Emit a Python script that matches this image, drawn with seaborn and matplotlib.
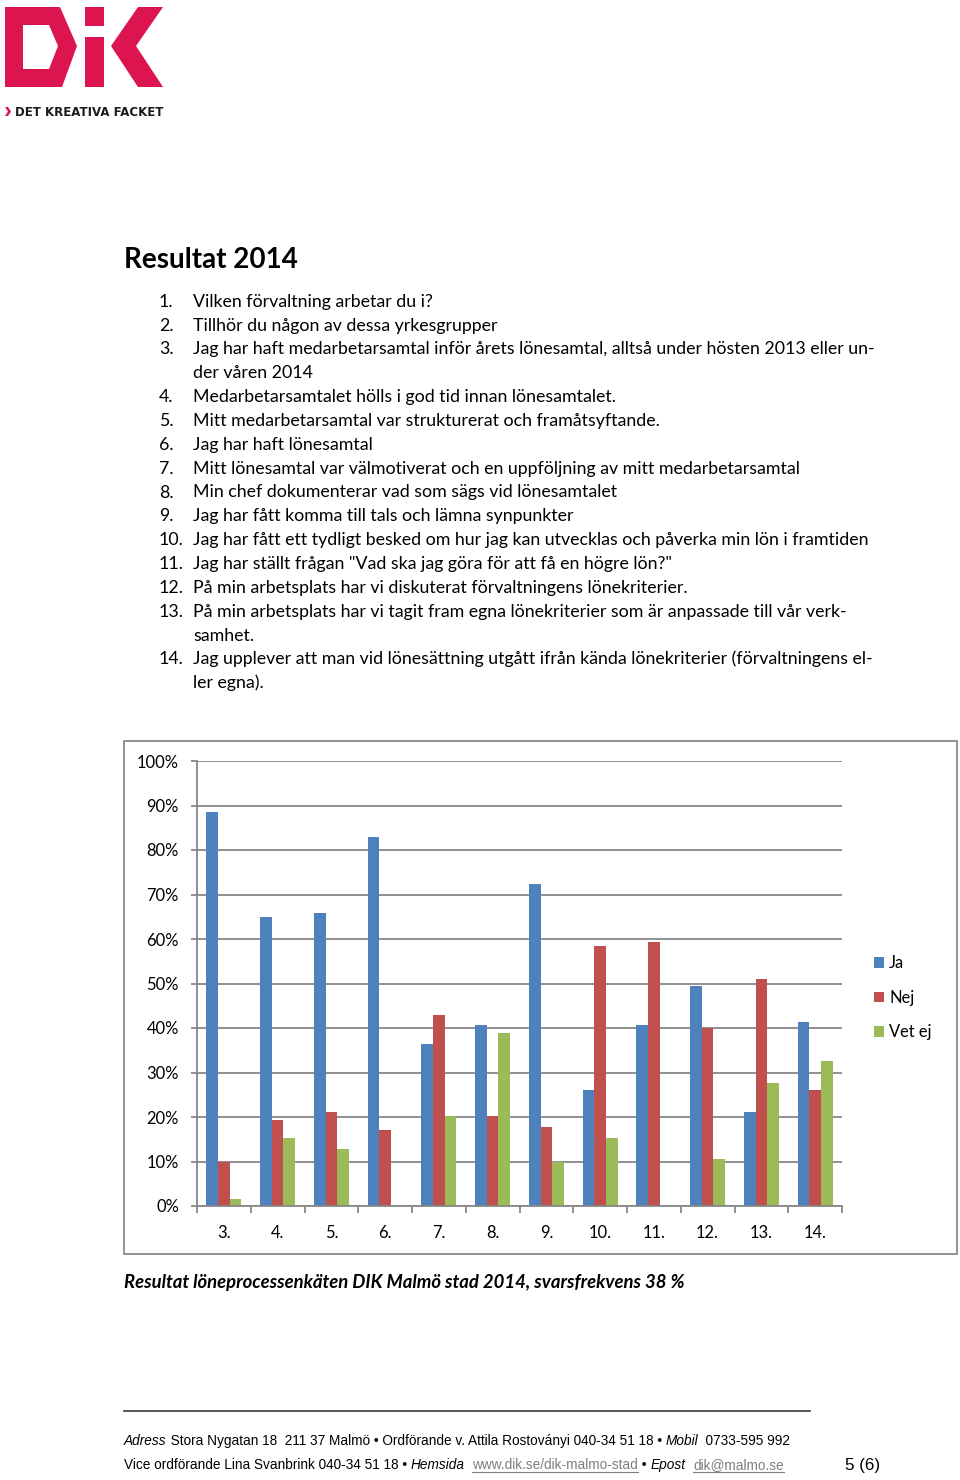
import numpy as np
import pandas as pd
import matplotlib
matplotlib.use("Agg")
import matplotlib.pyplot as plt
import seaborn as sns
from matplotlib.patches import Polygon, Rectangle, Patch
from matplotlib import font_manager as fm

# ---------------- data ----------------
questions = ["3.", "4.", "5.", "6.", "7.", "8.", "9.", "10.", "11.", "12.", "13.", "14."]
ja = [88.6, 65.0, 65.9, 82.9, 36.5, 40.6, 72.3, 26.0, 40.6, 49.5, 21.1, 41.4]
nej = [9.8, 19.4, 21.1, 17.1, 43.0, 20.3, 17.8, 58.5, 59.4, 39.9, 51.1, 26.0]
vet_ej = [1.5, 15.3, 12.9, 0.0, 20.3, 38.9, 9.8, 15.3, 0.0, 10.5, 27.6, 32.5]
series_names = ["Ja", "Nej", "Vet ej"]
series_colors = ["#4F81BD", "#C0504D", "#9BBB59"]
y_ticks = [0, 10, 20, 30, 40, 50, 60, 70, 80, 90, 100]

title = "Resultat 2014"
list_items = [
    ("1.", "Vilken förvaltning arbetar du i?"),
    ("2.", "Tillhör du någon av dessa yrkesgrupper"),
    ("3.", "Jag har haft medarbetarsamtal inför årets lönesamtal, alltså under hösten 2013 eller un-"),
    ("", "der våren 2014"),
    ("4.", "Medarbetarsamtalet hölls i god tid innan lönesamtalet."),
    ("5.", "Mitt medarbetarsamtal var strukturerat och framåtsyftande."),
    ("6.", "Jag har haft lönesamtal"),
    ("7.", "Mitt lönesamtal var välmotiverat och en uppföljning av mitt medarbetarsamtal"),
    ("8.", "Min chef dokumenterar vad som sägs vid lönesamtalet"),
    ("9.", "Jag har fått komma till tals och lämna synpunkter"),
    ("10.", "Jag har fått ett tydligt besked om hur jag kan utvecklas och påverka min lön i framtiden"),
    ("11.", "Jag har ställt frågan \"Vad ska jag göra för att få en högre lön?\""),
    ("12.", "På min arbetsplats har vi diskuterat förvaltningens lönekriterier."),
    ("13.", "På min arbetsplats har vi tagit fram egna lönekriterier som är anpassade till vår verk-"),
    ("", "samhet."),
    ("14.", "Jag upplever att man vid lönesättning utgått ifrån kända lönekriterier (förvaltningens el-"),
    ("", "ler egna)."),
]
caption = "Resultat löneprocessenkäten DIK Malmö stad 2014, svarsfrekvens 38 %"
footer_row1 = [("Adress", "italic", "k"), (" Stora Nygatan 18  211 37 Malmö • Ordförande v. Attila Rostoványi 040-34 51 18 • ", "normal", "k"),
               ("Mobil", "italic", "k"), ("  0733-595 992", "normal", "k")]
footer_row2 = [("Vice ordförande Lina Svanbrink 040-34 51 18 • ", "normal", "k"), ("Hemsida", "italic", "k"), ("  ", "normal", "k"),
               ("www.dik.se/dik-malmo-stad", "normal", "link"), (" • ", "normal", "k"), ("Epost", "italic", "k"),
               ("  ", "normal", "k"), ("dik@malmo.se", "normal", "link")]
page_no = "5 (6)"
logo_tag = "DET KREATIVA FACKET"

# ---------------- setup ----------------
W, H = 960, 1480
fig = plt.figure(figsize=(W / 100, H / 100), dpi=100, facecolor="white")
renderer = fig.canvas.get_renderer()

bg = fig.add_axes([0, 0, 1, 1], zorder=0)
bg.set_xlim(0, W)
bg.set_ylim(H, 0)
bg.axis("off")

BODY = "Lato"
def has_font(name):
    try:
        fm.findfont(fm.FontProperties(family=name), fallback_to_default=False)
        return True
    except Exception:
        return False
FOOT = "Liberation Sans Narrow" if has_font("Liberation Sans Narrow") else "Liberation Sans"

def text_w(s, **kw):
    t = bg.text(0, 0, s, **kw)
    w = t.get_window_extent(renderer=renderer).width
    t.remove()
    return w

def fit(s, target, base=12, **kw):
    return base * target / text_w(s, fontsize=base, **kw)

# ---------------- logo ----------------
RED = "#DC1450"
bg.add_patch(Polygon([(5, 7), (60, 7), (77, 46), (62, 87), (5, 87)], closed=True, fc=RED, ec="none"))
bg.add_patch(Polygon([(23, 25), (49, 25), (58, 46), (49, 69), (23, 69)], closed=True, fc="white", ec="none"))
bg.add_patch(Rectangle((85, 7), 19, 19, fc=RED, ec="none"))
bg.add_patch(Rectangle((85, 37), 19, 50, fc=RED, ec="none"))
bg.add_patch(Polygon([(111, 46), (138, 7), (163, 7), (136, 46), (163, 87), (138, 87)], closed=True, fc=RED, ec="none"))
bg.add_patch(Polygon([(5, 107), (8, 107), (11, 111.5), (8, 116), (5, 116), (8, 111.5)], closed=True, fc=RED, ec="none"))
fs_tag = fit(logo_tag, 148, family="DejaVu Sans", weight="bold")
bg.text(15, 116, logo_tag, fontsize=fs_tag, family="DejaVu Sans", weight="bold", color="#1a1a1a", va="baseline")

# ---------------- title and list ----------------
fs_title = fit(title, 173, family=BODY, weight="bold")
bg.text(124, 268.3, title, fontsize=fs_title, family=BODY, weight="bold", color="black", va="baseline")

fs_body = fit(list_items[10][1], 673, family=BODY)
for k, (num, txt) in enumerate(list_items):
    yb = 306.7 + 23.85 * k
    if num:
        bg.text(159, yb, num, fontsize=fs_body, family=BODY, color="black", va="baseline")
    bg.text(193, yb, txt, fontsize=fs_body, family=BODY, color="black", va="baseline")

# ---------------- chart frame ----------------
bg.add_patch(Rectangle((123.5, 740.5), 833, 513, fc="white", ec="#8a8a8a", lw=1.3))

# ---------------- chart ----------------
L, R, T, B = 197, 842, 761, 1206
ax = fig.add_axes([L / W, 1 - B / H, (R - L) / W, (B - T) / H], zorder=2)
ax.set_facecolor("none")

df = pd.DataFrame({
    "q": questions * 3,
    "v": ja + nej + vet_ej,
    "s": [series_names[0]] * len(questions) + [series_names[1]] * len(questions) + [series_names[2]] * len(questions),
})
sns.barplot(data=df, x="q", y="v", hue="s", order=questions, hue_order=series_names,
            palette=series_colors, saturation=1, width=0.65, linewidth=0, ax=ax, legend=False)

GRID = "#878787"
ax.set_ylim(0, 100)
ax.set_xlim(-0.5, len(questions) - 0.5)
ax.set_yticks(y_ticks)
ax.set_yticklabels([f"{v}%" for v in y_ticks])
ax.set_axisbelow(True)
ax.yaxis.grid(True, color=GRID, lw=1.3)
ax.xaxis.grid(False)
for sp in ["top", "right"]:
    ax.spines[sp].set_visible(False)
for sp in ["left", "bottom"]:
    ax.spines[sp].set_color(GRID)
    ax.spines[sp].set_linewidth(1.3)
ax.set_xlabel("")
ax.set_ylabel("")

fs_tick = fit("100%", 42, family=BODY)
ax.tick_params(axis="y", length=4, width=1.3, color=GRID, pad=9, labelsize=fs_tick, labelcolor="black")
ax.set_xticks(np.arange(len(questions)))
ax.set_xticks(np.arange(len(questions) + 1) - 0.5, minor=True)
ax.tick_params(axis="x", which="major", length=0, pad=14, labelsize=fs_tick, labelcolor="black")
ax.tick_params(axis="x", which="minor", length=5, width=1.3, color=GRID)
for lab in ax.get_xticklabels() + ax.get_yticklabels():
    lab.set_family(BODY)

handles = [Patch(facecolor=c, edgecolor="none") for c in series_colors]
leg = fig.legend(handles, series_names, loc="upper left", bbox_to_anchor=(866 / W, 1 - 947 / H),
                 frameon=False, prop={"family": BODY, "size": fs_tick},
                 handlelength=0.6, handleheight=0.6, handletextpad=0.3, labelspacing=1.12, borderpad=0)

# ---------------- caption ----------------
fs_cap = fit(caption, 561, family=BODY, weight="bold", style="italic")
bg.text(124, 1288.3, caption, fontsize=fs_cap, family=BODY, weight="bold", style="italic", color="black", va="baseline")

# ---------------- footer ----------------
bg.plot([124, 810], [1411, 1411], color="#3c3c3c", lw=1.2)

def row_width(parts, size):
    return sum(text_w(s, fontsize=size, family=FOOT, style=st) for s, st, _ in parts)

fs_foot = 10 * 665 / row_width(footer_row1, 10)

def draw_row(parts, x0, yb, size):
    x = x0
    for s, st, kind in parts:
        col = "#7f7f7f" if kind == "link" else "black"
        bg.text(x, yb, s, fontsize=size, family=FOOT, style=st, color=col, va="baseline")
        w = text_w(s, fontsize=size, family=FOOT, style=st)
        if kind == "link":
            bg.plot([x, x + w], [yb + 2.5, yb + 2.5], color=col, lw=0.8)
        x += w

draw_row(footer_row1, 124, 1445, fs_foot)
draw_row(footer_row2, 124, 1469, fs_foot)

fs_page = fit(page_no, 35, family=FOOT)
bg.text(845, 1470, page_no, fontsize=fs_page, family=FOOT, color="black", va="baseline")

fig.savefig("out.png", dpi=100, facecolor="white")
